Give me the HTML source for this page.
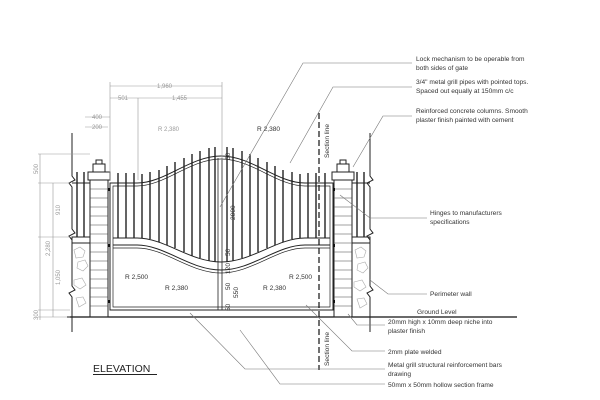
<!DOCTYPE html>
<html><head><meta charset="utf-8"><style>
html,body{margin:0;padding:0;background:#fff;}
svg{display:block;font-family:"Liberation Sans",sans-serif;}
.t{font-size:6.6px;fill:#333;}
.d{font-size:6px;fill:#999;}
.l{stroke:#222;stroke-width:1;fill:none;}
.g{stroke:#999;stroke-width:0.6;fill:none;}
.b{stroke:#111;stroke-width:1.3;}
</style></head><body>
<svg width="600" height="400" viewBox="0 0 600 400">
<rect width="600" height="400" fill="#fff"/>
<!-- ground -->
<line x1="67" y1="317" x2="517" y2="317" stroke="#111" stroke-width="1.2"/>
<!-- left/right broken edges -->
<path class="l" d="M72 133 V176 l3 4 l-6 3 l3 4 V229 l3 4 l-6 3 l3 4 V286 l3 4 l-6 3 l3 4 V332"/>
<path class="l" d="M370 133 V176 l3 4 l-6 3 l3 4 V229 l3 4 l-6 3 l3 4 V286 l3 4 l-6 3 l3 4 V332"/>
<!-- side fences -->
<g class="b"><line x1="77" y1="172" x2="77" y2="237"/><line x1="84" y1="172" x2="84" y2="237"/>
<line x1="357" y1="172" x2="357" y2="237"/><line x1="364" y1="172" x2="364" y2="237"/></g>
<line class="l" x1="72" y1="183" x2="90" y2="183"/><line class="l" x1="352" y1="183" x2="370" y2="183"/>
<rect class="l" x="72" y="237" width="18" height="6"/><rect class="l" x="352" y="237" width="18" height="6"/>
<g stroke="#aaa" stroke-width="0.6" fill="none">
<path d="M74 250 l6 -3 l5 4 l-2 6 l-7 1z M78 262 l7 -2 l3 6 l-5 5 l-6 -3z M74 280 l8 -2 l4 7 l-6 4 l-6 -4z M76 298 l7 -1 l3 6 l-7 4z"/>
<path d="M355 250 l6 -3 l5 4 l-2 6 l-7 1z M358 264 l7 -2 l3 6 l-5 5 l-6 -3z M354 282 l8 -2 l4 7 l-6 4 l-6 -4z M357 299 l7 -1 l3 6 l-7 4z"/>
</g>
<!-- pillars -->
<g class="l" stroke-width="0.8">
<rect x="90" y="180" width="18" height="137"/><rect x="88" y="172" width="22" height="8"/><rect x="93" y="164" width="12" height="8"/><rect x="96" y="160" width="6" height="4"/>
<rect x="334" y="180" width="18" height="137"/><rect x="332" y="172" width="22" height="8"/><rect x="337" y="164" width="12" height="8"/><rect x="340" y="160" width="6" height="4"/>
</g>
<g stroke="#444" stroke-width="0.6">
<path d="M90 189H108M90 198H108M90 207H108M90 216H108M90 225H108M90 234H108M90 243H108M90 252H108M90 261H108M90 270H108M90 279H108M90 288H108M90 297H108M90 306H108"/>
<path d="M334 189H352M334 198H352M334 207H352M334 216H352M334 225H352M334 234H352M334 243H352M334 252H352M334 261H352M334 270H352M334 279H352M334 288H352M334 297H352M334 306H352"/>
</g>
<!-- bars -->
<g class="b">
<path d="M118 173V238M126 173V238M134 173V238M308 173V238M316 173V238M325 173V238"/>
<path d="M142 174V238M150 172V239M159 170V242M167 166V245M175 162V248M184 158V252M192 154V256M200 151V258M209 148V261M215 147V262"/>
<path d="M227 147V262M233 148V261M242 151V258M250 154V256M258 158V252M267 162V248M275 166V245M283 170V242M292 172V239M300 174V238"/>
</g>
<!-- gate frame -->
<g class="l">
<path d="M110 310V183H137C165 183 190 156 221 156C252 156 277 183 305 183H333V310Z"/>
<path d="M113 307V186H137C165 186 190 159 221 159C252 159 277 186 305 186H330V307Z" stroke-width="0.7"/>
<path d="M113 238H137C165 238 190 262 221 262C252 262 277 238 305 238H330"/>
<path d="M113 245H137C165 245 190 270 221 270C252 270 277 245 305 245H330"/>
<path d="M113 248H137C165 248 190 273 221 273C252 273 277 248 305 248H330" stroke-width="0.7"/>
<path d="M218 158V310M222 158V310" stroke-width="0.8"/>
</g>
<g fill="#111"><rect x="108" y="188" width="2" height="3"/><rect x="108" y="244" width="2" height="3"/><rect x="108" y="300" width="2" height="3"/>
<rect x="333" y="188" width="2" height="3"/><rect x="333" y="244" width="2" height="3"/><rect x="333" y="300" width="2" height="3"/></g>
<!-- section line -->
<line x1="319" y1="113" x2="319" y2="370" stroke="#111" stroke-width="1.2" stroke-dasharray="6,3"/>
<text class="t" transform="translate(329,158) rotate(-90)">Section line</text>
<text class="t" transform="translate(329,366) rotate(-90)">Section line</text>
<!-- gate labels -->
<text class="t" x="257" y="131">R 2,380</text>
<text class="t" x="125" y="279">R 2,500</text>
<text class="t" x="165" y="290">R 2,380</text>
<text class="t" x="289" y="279">R 2,500</text>
<text class="t" x="263" y="290">R 2,380</text>
<g class="t"><text transform="translate(235,220) rotate(-90)">2000</text>
<text transform="translate(230,160) rotate(-90)">50</text>
<text transform="translate(230,256) rotate(-90)">50</text>
<text transform="translate(230,274) rotate(-90)">120</text>
<text transform="translate(230,290) rotate(-90)">50</text>
<text transform="translate(238,298) rotate(-90)">550</text>
<text transform="translate(230,311) rotate(-90)">50</text></g>
<!-- gray dims -->
<g class="g">
<path d="M110 86H222M110 98H222M138 98V180M222 82V160M110 82V180M85 117H110M85 127H108"/>
<path d="M38 154H90M38 183H70M38 237H70M38 310H70M38 317H70M40 154V320M53 183V317"/>
</g>
<g class="d"><text x="157" y="88">1,960</text><text x="118" y="100">501</text><text x="172" y="100">1,455</text>
<text x="92" y="119">400</text><text x="92" y="129">200</text><text x="158" y="131">R 2,380</text>
<text transform="translate(38,174) rotate(-90)">500</text><text transform="translate(50,256) rotate(-90)">2,280</text>
<text transform="translate(60,215) rotate(-90)">910</text><text transform="translate(60,285) rotate(-90)">1,050</text>
<text transform="translate(38,320) rotate(-90)">300</text></g>
<!-- leaders -->
<g stroke="#777" stroke-width="0.6" fill="none">
<path d="M412 63H303L220 207"/>
<path d="M412 87H333L290 163"/>
<path d="M412 116H383L353 167"/>
<path d="M427 218H370L340 195"/>
<path d="M427 294H388L370 280"/>
<path d="M385 325H357L348 314"/>
<path d="M385 351H352L306 305"/>
<path d="M385 369H245L190 313"/>
<path d="M385 384H280L240 330"/>
</g>
<!-- right annotations -->
<g class="t">
<text x="416" y="61">Lock mechanism to be operable from</text><text x="416" y="70">both sides of gate</text>
<text x="416" y="84">3/4" metal grill pipes with pointed tops.</text><text x="416" y="93">Spaced out equally  at 150mm c/c</text>
<text x="416" y="113">Reinforced concrete columns. Smooth</text><text x="416" y="122">plaster finish painted with cement</text>
<text x="430" y="215">Hinges to manufacturers</text><text x="430" y="224">specifications</text>
<text x="430" y="296">Perimeter wall</text>
<text x="417" y="314">Ground Level</text>
<text x="388" y="324">20mm high x 10mm deep niche into</text><text x="388" y="333">plaster finish</text>
<text x="388" y="354">2mm plate welded</text>
<text x="388" y="367">Metal grill structural reinforcement bars</text><text x="388" y="376">drawing</text>
<text x="388" y="387">50mm x 50mm hollow section frame</text>
</g>
<text x="93" y="372" font-size="10.5" fill="#222">ELEVATION</text>
<line x1="93" y1="374.5" x2="157" y2="374.5" stroke="#222" stroke-width="1"/>
</svg>
</body></html>
